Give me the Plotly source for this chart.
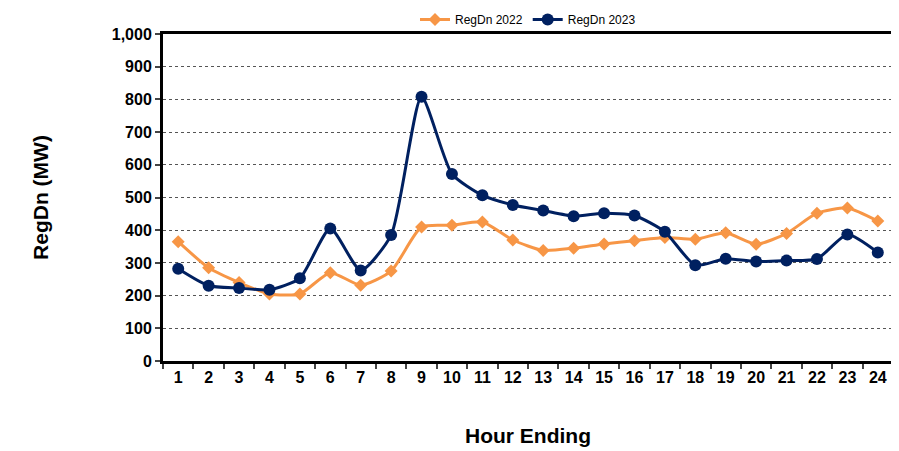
import plotly.graph_objects as go

hours = [str(h) for h in range(1, 25)]
regdn_2022 = [365, 285, 240, 205, 205, 270, 232, 275, 410, 415, 425, 370, 338, 345, 358, 368, 378, 372, 392, 357, 390, 452, 468, 428]
regdn_2023 = [282, 230, 223, 218, 253, 405, 277, 385, 808, 572, 507, 477, 460, 443, 452, 445, 395, 293, 313, 304, 307, 312, 387, 332]

fig = go.Figure()
fig.add_trace(go.Scatter(x=hours, y=regdn_2022, name="RegDn 2022", mode="lines+markers",
                         line=dict(color="#F79646", width=3, shape="spline", smoothing=0.6),
                         marker=dict(symbol="diamond", size=10, color="#F79646")))
fig.add_trace(go.Scatter(x=hours, y=regdn_2023, name="RegDn 2023", mode="lines+markers",
                         line=dict(color="#002060", width=3, shape="spline", smoothing=0.6),
                         marker=dict(symbol="circle", size=12, color="#002060")))
fig.update_layout(
    width=899, height=451, paper_bgcolor="white", plot_bgcolor="white",
    margin=dict(l=155, r=14, t=26, b=98, autoexpand=False),
    font=dict(family="Liberation Sans, Arial", color="black"),
    legend=dict(orientation="h", x=0.5, xanchor="center", y=1.0, yanchor="bottom", font=dict(size=12),
                bgcolor="rgba(0,0,0,0)"),
    xaxis=dict(type="category", tickson="boundaries", range=[-0.5, 23.5], showline=True, linecolor="black", linewidth=3, mirror=True,
               showgrid=False, tickfont=dict(size=16, weight="bold"),
               title=dict(text="<b>Hour Ending</b>", font=dict(size=21), standoff=44), ticks="outside", ticklen=5, tickwidth=2),
    yaxis=dict(range=[0, 1000], dtick=100, tickformat=",", showline=True, linecolor="black", linewidth=3, mirror=True,
               showgrid=True, gridcolor="#555555", griddash="dot", gridwidth=1,
               tickfont=dict(size=16, weight="bold"),
               title=dict(text="<b>RegDn (MW)</b>", font=dict(size=21), standoff=58), ticks="outside", ticklen=5, tickwidth=2),
)
fig.write_html("out.html")
